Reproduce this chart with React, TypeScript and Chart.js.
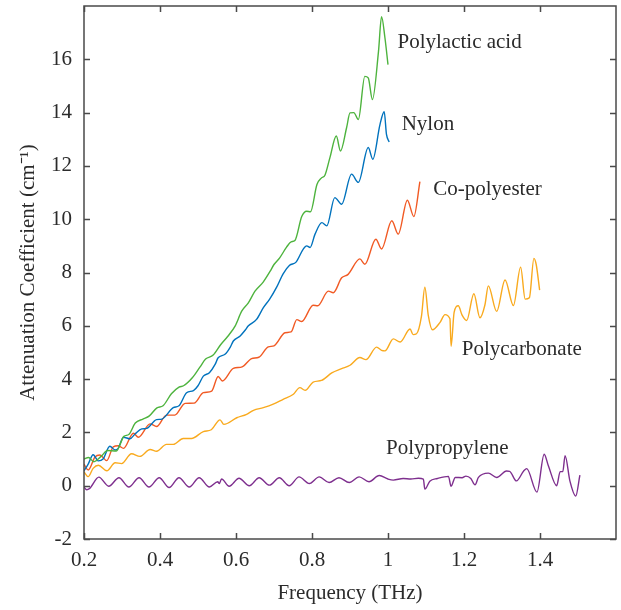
import React, { useEffect, useRef } from "react";
import { Chart, registerables } from "chart.js";

Chart.register(...registerables);

// Polylactic acid (green)
const plaX = [0.2, 0.212, 0.226, 0.245, 0.262, 0.285, 0.305, 0.318, 0.335, 0.355, 0.372, 0.392, 0.408, 0.43, 0.45, 0.462, 0.485, 0.505, 0.52, 0.54, 0.56, 0.578, 0.598, 0.615, 0.632, 0.65, 0.672, 0.69, 0.7, 0.715, 0.733, 0.745, 0.755, 0.773, 0.786, 0.796, 0.813, 0.825, 0.834, 0.847, 0.864, 0.875, 0.891, 0.9, 0.91, 0.922, 0.939, 0.948, 0.959, 0.975, 0.983, 0.992, 1.0];
const plaY = [1.0, 1.06, 0.9, 1.1, 1.32, 1.3, 1.85, 1.92, 2.35, 2.5, 2.62, 2.92, 3.0, 3.45, 3.7, 3.75, 4.05, 4.45, 4.75, 4.9, 5.3, 5.6, 6.0, 6.55, 6.85, 7.3, 7.65, 8.05, 8.3, 8.55, 8.95, 9.15, 9.2, 10.1, 10.3, 10.28, 11.3, 11.55, 11.65, 12.3, 13.12, 12.56, 13.43, 13.99, 14.0, 13.74, 15.36, 15.3, 14.49, 16.3, 17.6, 16.8, 15.8];

// Nylon (blue)
const nylX = [0.2, 0.211, 0.224, 0.238, 0.25, 0.268, 0.282, 0.29, 0.304, 0.321, 0.335, 0.352, 0.365, 0.391, 0.405, 0.435, 0.45, 0.47, 0.488, 0.5, 0.514, 0.53, 0.545, 0.553, 0.571, 0.585, 0.593, 0.611, 0.625, 0.632, 0.654, 0.672, 0.689, 0.707, 0.724, 0.741, 0.758, 0.777, 0.786, 0.795, 0.808, 0.826, 0.839, 0.86, 0.878, 0.904, 0.922, 0.948, 0.96, 0.979, 0.99, 0.996, 1.003];
const nylY = [0.56, 0.81, 1.16, 0.93, 1.0, 1.48, 1.34, 1.4, 1.82, 1.76, 1.95, 2.13, 2.15, 2.48, 2.5, 2.93, 3.0, 3.49, 3.57, 3.75, 4.11, 4.24, 4.55, 4.8, 4.93, 5.2, 5.43, 5.62, 5.85, 5.99, 6.24, 6.68, 7.01, 7.45, 7.95, 8.27, 8.39, 8.88, 9.0, 8.94, 9.44, 9.87, 9.75, 10.81, 10.56, 11.69, 11.38, 12.69, 12.25, 13.56, 14.03, 13.18, 12.9];

// Co-polyester (orange)
const copX = [0.2, 0.211, 0.229, 0.242, 0.26, 0.277, 0.29, 0.304, 0.33, 0.343, 0.374, 0.391, 0.417, 0.439, 0.466, 0.49, 0.514, 0.536, 0.553, 0.564, 0.593, 0.616, 0.641, 0.66, 0.685, 0.7, 0.729, 0.745, 0.76, 0.773, 0.803, 0.815, 0.843, 0.856, 0.878, 0.895, 0.926, 0.939, 0.968, 0.983, 1.01, 1.027, 1.051, 1.068, 1.084];
const copY = [0.81, 0.59, 1.08, 1.15, 0.94, 1.46, 1.5, 1.4, 1.97, 1.82, 2.32, 2.22, 2.65, 2.65, 3.09, 3.1, 3.49, 3.55, 4.1, 3.93, 4.4, 4.46, 4.77, 4.82, 5.21, 5.25, 5.74, 5.77, 6.23, 6.16, 6.77, 6.75, 7.3, 7.24, 7.8, 7.93, 8.51, 8.31, 9.25, 8.88, 9.94, 9.44, 10.71, 10.1, 11.41];

// Polycarbonate (yellow)
const pcX = [0.2, 0.211, 0.224, 0.238, 0.26, 0.282, 0.299, 0.325, 0.347, 0.374, 0.391, 0.417, 0.435, 0.461, 0.483, 0.514, 0.535, 0.558, 0.568, 0.602, 0.628, 0.646, 0.672, 0.698, 0.724, 0.751, 0.768, 0.782, 0.803, 0.825, 0.852, 0.878, 0.9, 0.926, 0.942, 0.97, 0.983, 0.992, 1.014, 1.032, 1.058, 1.066, 1.075, 1.088, 1.097, 1.106, 1.117, 1.137, 1.15, 1.163, 1.166, 1.174, 1.185, 1.195, 1.207, 1.226, 1.242, 1.255, 1.264, 1.286, 1.308, 1.33, 1.349, 1.361, 1.372, 1.384, 1.39, 1.399];
const pcY = [0.52, 0.34, 0.65, 0.77, 0.56, 0.86, 0.83, 1.2, 1.1, 1.36, 1.29, 1.55, 1.55, 1.77, 1.77, 2.03, 2.1, 2.47, 2.3, 2.55, 2.68, 2.83, 2.93, 3.06, 3.24, 3.43, 3.68, 3.58, 3.89, 3.95, 4.23, 4.39, 4.52, 4.81, 4.73, 5.2, 5.08, 5.06, 5.51, 5.39, 5.88, 5.67, 5.7, 6.35, 7.45, 6.39, 5.85, 6.13, 6.42, 6.26, 5.23, 6.5, 6.75, 6.4, 6.2, 7.2, 6.3, 6.78, 7.5, 6.54, 7.72, 6.76, 8.2, 7.0, 7.05, 8.53, 8.3, 7.34];

// Polypropylene (purple)
const ppX = [0.2, 0.207, 0.215, 0.239, 0.265, 0.292, 0.318, 0.345, 0.371, 0.398, 0.424, 0.45, 0.477, 0.503, 0.53, 0.552, 0.556, 0.562, 0.582, 0.608, 0.635, 0.661, 0.688, 0.714, 0.74, 0.766, 0.793, 0.819, 0.845, 0.871, 0.898, 0.924, 0.95, 0.977, 1.0, 1.014, 1.04, 1.06, 1.08, 1.093, 1.097, 1.11, 1.13, 1.159, 1.166, 1.177, 1.195, 1.205, 1.218, 1.229, 1.238, 1.264, 1.286, 1.312, 1.32, 1.338, 1.357, 1.365, 1.392, 1.411, 1.422, 1.444, 1.453, 1.46, 1.466, 1.479, 1.494, 1.505];
const ppY = [-0.05, -0.15, -0.1, 0.32, -0.02, 0.3, -0.05, 0.3, -0.05, 0.3, -0.07, 0.3, -0.05, 0.3, -0.05, 0.15, 0.08, 0.25, -0.02, 0.28, 0.0, 0.3, 0.02, 0.3, 0.0, 0.33, 0.08, 0.33, 0.12, 0.3, 0.12, 0.33, 0.15, 0.38, 0.25, 0.21, 0.27, 0.25, 0.28, 0.25, -0.13, 0.17, 0.27, 0.35, -0.02, 0.31, 0.3, 0.36, 0.27, 0.03, 0.31, 0.47, 0.31, 0.55, 0.54, 0.18, 0.55, 0.64, -0.24, 1.18, 0.75, 0.0, 0.53, 0.53, 1.13, 0.16, -0.39, 0.4];

const seriesNames = ["Polylactic acid", "Nylon", "Co-polyester", "Polycarbonate", "Polypropylene"];
const seriesColors = ["#4DB33D", "#0072BD", "#F15A24", "#F9AA1E", "#7E2F8E"];

// In-plot label anchors (data coordinates: left edge, baseline)
const labelX = [1.025, 1.036, 1.119, 1.194, 0.995];
const labelY = [16.42, 13.33, 10.91, 4.89, 1.19];

const xTicks = [0.2, 0.4, 0.6, 0.8, 1.0, 1.2, 1.4];
const yTicks = [-2, 0, 2, 4, 6, 8, 10, 12, 14, 16];

const FONT = "'Liberation Serif', 'Times New Roman', serif";
const FS = 21;
const TEXT = "#2b2b2b";
const FRAME = "#4a4a4a";

function zip(xs: number[], ys: number[]) {
  return xs.map((x, i) => ({ x, y: ys[i] }));
}

const framePlugin = {
  id: "frameTicks",
  afterDatasetsDraw(chart: any) {
    const { ctx, chartArea, scales } = chart;
    const { left, right, top, bottom } = chartArea;
    const xs = scales.x;
    const ys = scales.y;
    ctx.save();
    ctx.fillStyle = TEXT;
    ctx.font = `${FS}px ${FONT}`;
    ctx.textAlign = "left";
    ctx.textBaseline = "alphabetic";
    seriesNames.forEach((name, i) => {
      ctx.fillText(name, xs.getPixelForValue(labelX[i]), ys.getPixelForValue(labelY[i]));
    });
    ctx.strokeStyle = FRAME;
    ctx.lineWidth = 1.5;
    ctx.strokeRect(left, top, right - left, bottom - top);
    const tl = 6;
    ctx.beginPath();
    xTicks.forEach((v) => {
      const px = Math.round(xs.getPixelForValue(v)) + 0.5;
      ctx.moveTo(px, bottom);
      ctx.lineTo(px, bottom - tl);
      ctx.moveTo(px, top);
      ctx.lineTo(px, top + tl);
    });
    yTicks.forEach((v) => {
      const py = Math.round(ys.getPixelForValue(v)) + 0.5;
      ctx.moveTo(left, py);
      ctx.lineTo(left + tl, py);
      ctx.moveTo(right, py);
      ctx.lineTo(right - tl, py);
    });
    ctx.stroke();
    ctx.restore();
  },
};

export default function App() {
  const ref = useRef<HTMLCanvasElement | null>(null);
  useEffect(() => {
    if (!ref.current) return;
    const xsArr = [plaX, nylX, copX, pcX, ppX];
    const ysArr = [plaY, nylY, copY, pcY, ppY];
    const chart = new Chart(ref.current, {
      type: "line",
      data: {
        datasets: seriesNames.map((name, i) => ({
          label: name,
          data: zip(xsArr[i], ysArr[i]),
          borderColor: seriesColors[i],
          backgroundColor: seriesColors[i],
          borderWidth: 1.4,
          pointRadius: 0,
          fill: false,
          cubicInterpolationMode: "monotone" as const,
        })),
      },
      options: {
        animation: false,
        responsive: true,
        maintainAspectRatio: false,
        layout: { padding: { top: 6, right: 5, left: 0, bottom: 0 } },
        plugins: { legend: { display: false }, tooltip: { enabled: false } },
        scales: {
          x: {
            type: "linear",
            min: 0.2,
            max: 1.6,
            afterFit: (s: any) => {
              s.height = 71;
              s.paddingLeft = 0;
              s.paddingRight = 0;
            },
            afterBuildTicks: (s: any) => {
              s.ticks = xTicks.map((v) => ({ value: v }));
            },
            grid: { display: false, drawTicks: false },
            border: { display: false },
            ticks: {
              padding: 9,
              color: TEXT,
              font: { family: FONT, size: FS },
              maxRotation: 0,
              callback: (v: any) => String(Math.round(Number(v) * 10) / 10),
            },
            title: {
              display: true,
              text: "Frequency (THz)",
              color: TEXT,
              font: { family: FONT, size: FS },
              padding: { top: 0, bottom: 4 },
            },
          },
          y: {
            type: "linear",
            min: -2,
            max: 18,
            afterFit: (s: any) => {
              s.width = 84;
              s.paddingTop = 0;
              s.paddingBottom = 0;
            },
            afterBuildTicks: (s: any) => {
              s.ticks = yTicks.map((v) => ({ value: v }));
            },
            grid: { display: false, drawTicks: false },
            border: { display: false },
            ticks: {
              padding: 12,
              color: TEXT,
              font: { family: FONT, size: FS },
              callback: (v: any) => String(v),
            },
            title: {
              display: true,
              text: "Attenuation Coefficient (cm\u207B\u00B9)",
              color: TEXT,
              font: { family: FONT, size: FS },
              padding: { top: 16, bottom: 0 },
            },
          },
        },
      },
      plugins: [framePlugin],
    });
    return () => chart.destroy();
  }, []);
  return (
    <div style={{ position: "fixed", left: 0, top: 0, width: 621, height: 610, background: "#fff" }}>
      <canvas ref={ref} />
    </div>
  );
}
